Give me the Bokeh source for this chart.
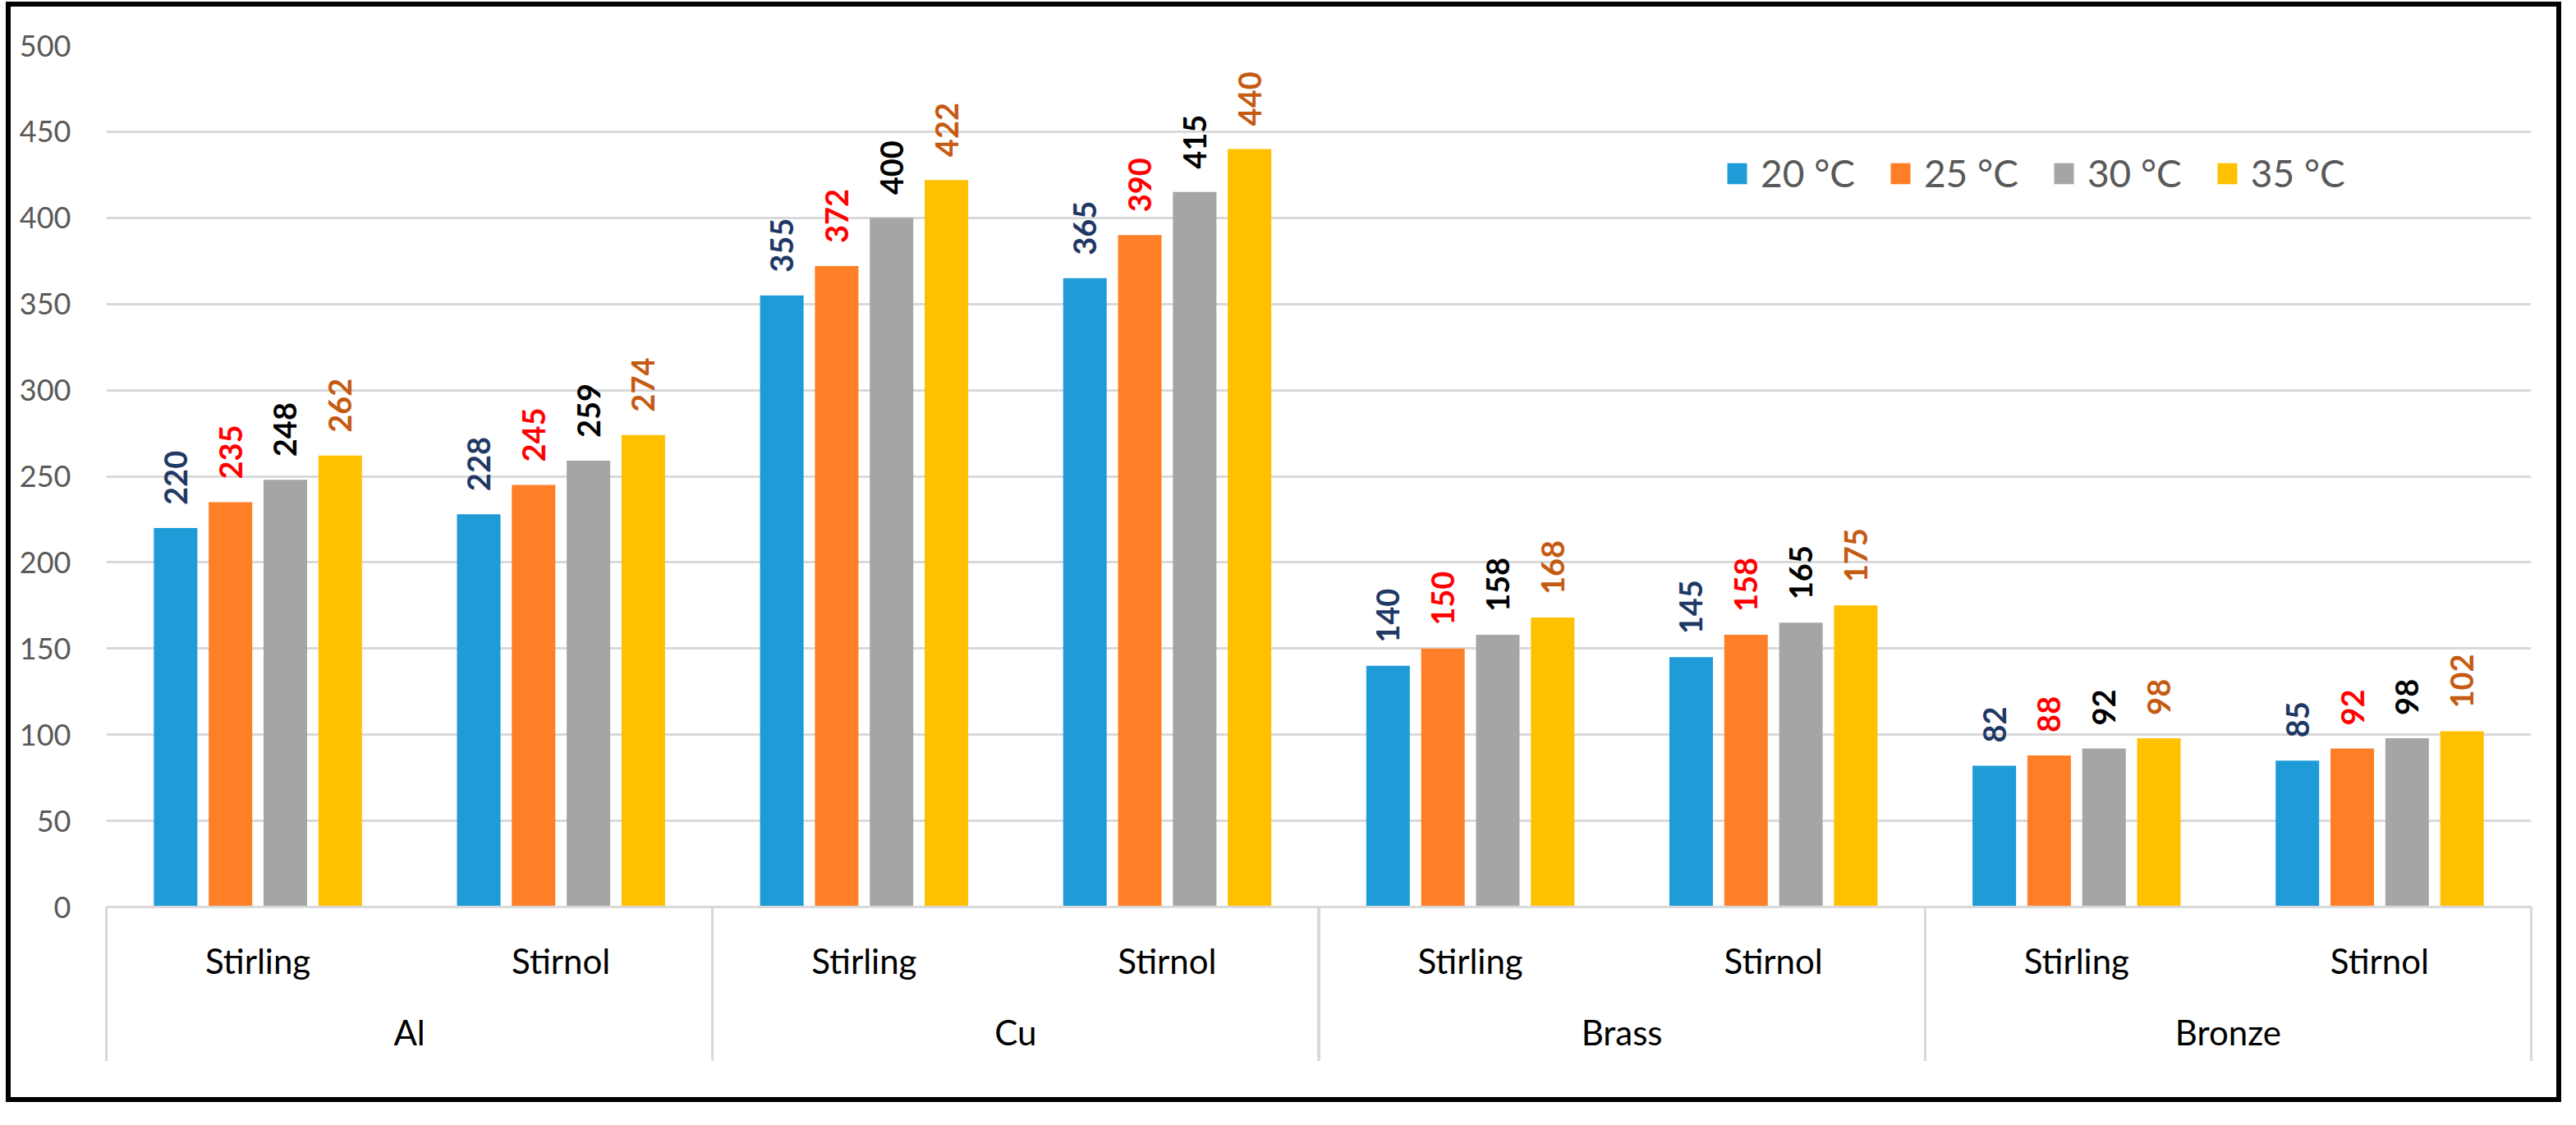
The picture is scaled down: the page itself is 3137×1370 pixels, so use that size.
import numpy as np
from bokeh.plotting import figure
from bokeh.models import ColumnDataSource, FactorRange, FixedTicker, Legend, LegendItem, InlineStyleSheet
from bokeh.transform import dodge
from bokeh.core.properties import value
from bokeh.embed import file_html
from bokeh.resources import INLINE

metals = ["Al", "Cu", "Brass", "Bronze"]
fluids = ["Stirling", "Stirnol"]
series = ["20 °C", "25 °C", "30 °C", "35 °C"]
t20 = [220, 228, 355, 365, 140, 145, 82, 85]
t25 = [235, 245, 372, 390, 150, 158, 88, 92]
t30 = [248, 259, 400, 415, 158, 165, 92, 98]
t35 = [262, 274, 422, 440, 168, 175, 98, 102]
y_ticks = [0, 50, 100, 150, 200, 250, 300, 350, 400, 450, 500]

bar_colors = ["#1F9CD8", "#FF7F27", "#A5A5A5", "#FFC000"]
label_colors = ["#1F3864", "#FF0000", "#000000", "#C55A11"]
FONT = "Lato"

W, H = 3121, 1354
ML, MR, MT, MB = 129, 39, 55, 250
SEP_LEN = 188
FRAME_W = W - ML - MR
GROUP_W = FRAME_W / len(metals)

factors = [(m, f) for m in metals for f in fluids]
cols = {"t20": t20, "t25": t25, "t30": t30, "t35": t35}
data = {"x": factors}
for k, v in cols.items():
    data[k] = v
    data[k + "_s"] = [str(a) for a in v]
src = ColumnDataSource(data)

p = figure(
    x_range=FactorRange(*factors, group_padding=0, factor_padding=0, range_padding=0),
    y_range=(0, 500),
    width=W, height=H,
    output_backend="svg", toolbar_location=None,
    min_border_left=ML, min_border_right=MR, min_border_top=MT, min_border_bottom=MB,
)
p.outline_line_color = None
p.background_fill_color = "white"
p.border_fill_color = "white"

# outer black frame and the category separators below the axis (page decoration)
css = f"""
:host {{ position: relative; }}
:host::after {{
  content: ""; position: absolute; box-sizing: border-box;
  left: 7px; top: 2px; right: 2px; bottom: 12px;
  border: 6px solid black; pointer-events: none; z-index: 10;
}}
:host::before {{
  content: ""; position: absolute;
  left: {ML - 1.5}px; width: {FRAME_W + 3}px; top: {H - MB}px; height: {SEP_LEN}px;
  background: repeating-linear-gradient(to right, #D9D9D9 0px, #D9D9D9 3px,
              transparent 3px, transparent {GROUP_W}px);
  pointer-events: none; z-index: 10;
}}
"""
p.stylesheets = [InlineStyleSheet(css=css)]

# y axis
p.yaxis.ticker = FixedTicker(ticks=y_ticks)
p.yaxis.axis_line_color = None
p.yaxis.major_tick_line_color = None
p.yaxis.minor_tick_line_color = None
p.yaxis.major_label_standoff = 37
p.yaxis.major_label_text_font = FONT
p.yaxis.major_label_text_font_size = "36px"
p.yaxis.major_label_text_color = "#595959"
p.ygrid.ticker = FixedTicker(ticks=y_ticks)
p.ygrid.grid_line_color = "#D9D9D9"
p.ygrid.grid_line_width = 3
p.xgrid.grid_line_color = None

# x axis (nested)
p.xaxis.axis_line_color = "#D9D9D9"
p.xaxis.axis_line_width = 3
p.xaxis.major_tick_line_color = None
p.xaxis.minor_tick_line_color = None
p.xaxis.major_label_text_font = FONT
p.xaxis.major_label_text_font_size = "42px"
p.xaxis.major_label_text_color = "#000000"
p.xaxis.major_label_standoff = 34
p.xaxis.group_text_font = FONT
p.xaxis.group_text_font_size = "42px"
p.xaxis.group_text_font_style = "normal"
p.xaxis.group_text_color = "#000000"
p.xaxis.separator_line_color = None

step = 0.181
bar_w = 0.1436
offsets = [-1.5 * step, -0.5 * step, 0.5 * step, 1.5 * step]
keys = ["t20", "t25", "t30", "t35"]
items = []
for k, off, bc, lc, name in zip(keys, offsets, bar_colors, label_colors, series):
    r = p.vbar(x=dodge("x", off, range=p.x_range), top=k, width=bar_w, bottom=0,
               source=src, fill_color=bc, line_color=None)
    items.append(LegendItem(label=name, renderers=[r]))
    p.text(x=dodge("x", off, range=p.x_range), y=k, text=k + "_s", source=src,
           angle=np.pi / 2, text_align="left", text_baseline="middle",
           y_offset=-28, text_font=value(FONT), text_font_style="bold",
           text_font_size="38px", text_color=lc)

legend = Legend(items=items, orientation="horizontal", location=(1971, 866),
                border_line_color=None, background_fill_alpha=0,
                glyph_width=30, glyph_height=32, label_standoff=14, spacing=40,
                padding=0, margin=0,
                label_text_font=FONT, label_text_font_size="46px",
                label_text_color="#595959")
p.add_layout(legend, "center")

open("out.html", "w").write(file_html(p, INLINE))
